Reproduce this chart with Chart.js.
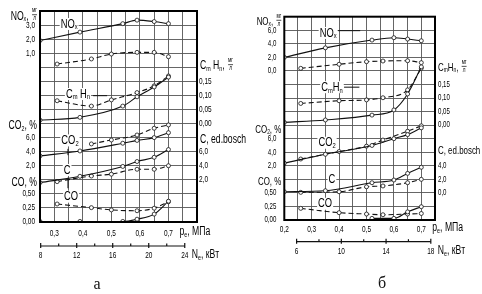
<!DOCTYPE html>
<html>
<head>
<meta charset="utf-8">
<script src="https://cdn.jsdelivr.net/npm/chart.js@4"></script>
<style>
body { margin: 0; background: #fff; width: 482px; height: 294px; position: relative; overflow: hidden; }
canvas { position: absolute; top: 0; }
#ca { left: 0; }
#cb { left: 240px; }
</style>
</head>
<body>
<canvas id="ca" width="250" height="294"></canvas>
<canvas id="cb" width="242" height="294"></canvas>
<script>
// ---- panel а ----
var peA_solid = [0.25, 0.39, 0.54, 0.59, 0.65, 0.70];
var peA_dash  = [0.31, 0.43, 0.50, 0.59, 0.65, 0.70];
var noxA_solid = [1.9, 2.5, 3.1, 3.35, 3.25, 3.1];
var noxA_dash  = [0.23, 0.59, 0.94, 1.06, 1.06, 0.75];
var chA_solid  = [0.012, 0.022, 0.062, 0.095, 0.13, 0.165];
var chA_dash   = [0.081, 0.062, 0.084, 0.11, 0.134, 0.169];
var co2A_solid = [3.4, 4.1, 5.2, 5.6, 6.0, 6.7];
var co2A_dash  = [null, 5.1, 5.66, 6.37, 7.33, 7.8];
var cA_solid   = [1.6, 2.5, 3.9, 4.6, 5.2, 6.3];
var cA_dash    = [1.74, 2.54, 2.8, 3.5, 3.5, 4.0];
var coA_solid  = [0.01, 0.01, 0.01, 0.05, 0.14, 0.37];
var coA_dash   = [0.32, 0.255, 0.215, 0.2, 0.245, 0.36];

// ---- panel б ----
var peB_solid = [0.20, 0.35, 0.52, 0.60, 0.65, 0.70];
var peB_dash  = [0.26, 0.40, 0.50, 0.56, 0.65, 0.70];
var noxB_solid = [2.0, 3.4, 4.55, 4.9, 4.7, 4.45];
var noxB_dash  = [0.38, 0.98, 1.36, 1.46, 1.5, 1.22];
var chB_solid  = [0.01, 0.019, 0.037, 0.056, 0.115, 0.215];
var chB_dash   = [0.08, 0.09, 0.093, 0.101, 0.13, 0.21];
var co2B_solid = [2.4, 3.7, 5.0, 6.0, 6.6, 7.6];
var co2B_dash  = [3.0, 4.1, 4.9, 5.8, 7.1, 7.9];
var cB_solid   = [0.17, 0.32, 1.5, 1.9, 2.88, 3.78];
var cB_dash    = [0.08, 0.17, 0.9, 1.02, 1.5, 2.0];
var coB_solid  = [null, null, 0.03, 0.03, 0.15, 0.245];
var coB_dash   = [0.215, 0.135, 0.11, 0.097, 0.11, 0.12];

// ---- tick labels ----
var noxTicksA = [1, 2, 3];
var noxTicksB = [0, 2, 4, 6];
var chTicks   = [0, 0.05, 0.10, 0.15];
var co2Ticks  = [2, 4, 6];
var cTicksA   = [2, 4, 6];
var cTicksB   = [0, 2, 4];
var coTicks   = [0, 0.25, 0.50];
var peTicksA  = [0.3, 0.4, 0.5, 0.6, 0.7];
var peTicksB  = [0.2, 0.3, 0.4, 0.5, 0.6, 0.7];
var neTicksA  = [8, 12, 16, 20, 24];
var neTicksB  = [6, 10, 14, 18];

var FONT = "'Liberation Sans', Arial, sans-serif";
var SQ = 0.72;

// value -> grid line index (0 at top of the frame, 15 at the bottom)
function gNox(step) { return function (v) { return 4 - v / step; }; }
function gCh(v) { return 8 - v / 0.05; }
function gCo2(v) { return 12 - v / 2; }
function gC(v) { return 13 - v / 2; }
function gCo(v) { return 15 - v / 0.25; }

function fmt(v, d) { return v.toFixed(d).replace('.', ','); }

function parse(s) {
  var out = [];
  for (var i = 0; i < s.length; i++) {
    if (s[i] === '_') { out.push({ t: s[i + 1], sub: true }); i++; }
    else out.push({ t: s[i], sub: false });
  }
  return out;
}

function rich(ctx, s, x, y, size, align, dry) {
  var g = parse(s), w = 0;
  g.forEach(function (c) {
    ctx.font = (c.sub ? size * 0.62 : size) + 'px ' + FONT;
    c.w = ctx.measureText(c.t).width * SQ;
    w += c.w;
  });
  if (dry) return w;
  var x0 = align === 'right' ? x - w : align === 'center' ? x - w / 2 : x;
  ctx.textAlign = 'left';
  ctx.textBaseline = 'middle';
  ctx.fillStyle = '#000';
  g.forEach(function (c) {
    ctx.font = (c.sub ? size * 0.62 : size) + 'px ' + FONT;
    ctx.save();
    ctx.translate(x0, y + (c.sub ? size * 0.24 : 0));
    ctx.scale(SQ, 1);
    ctx.fillText(c.t, 0, 0);
    ctx.restore();
    x0 += c.w;
  });
  return w;
}

function frac(ctx, x, y, dry) {
  var fs = 6.5;
  ctx.font = fs + 'px ' + FONT;
  var w = ctx.measureText('мг').width * SQ;
  if (dry) return w;
  ctx.fillStyle = '#000';
  ctx.textAlign = 'center';
  ctx.save(); ctx.translate(x + w / 2, y - 1); ctx.scale(SQ, 1);
  ctx.textBaseline = 'bottom'; ctx.fillText('мг', 0, 0); ctx.restore();
  ctx.save(); ctx.translate(x + w / 2, y + 0.5); ctx.scale(SQ, 1);
  ctx.textBaseline = 'top'; ctx.fillText('л', 0, 0); ctx.restore();
  ctx.strokeStyle = '#000'; ctx.lineWidth = 0.7;
  ctx.beginPath(); ctx.moveTo(x, y); ctx.lineTo(x + w, y); ctx.stroke();
  return w;
}

function title(ctx, s, hasFrac, x, y, align, size) {
  var w1 = rich(ctx, s, 0, 0, size, 'left', true);
  var wf = hasFrac ? frac(ctx, 0, 0, true) + 1 : 0;
  var x0 = align === 'right' ? x - w1 - wf : x;
  rich(ctx, s, x0, y, size, 'left');
  if (hasFrac) frac(ctx, x0 + w1 + 1, y - 1.5);
}

function makeDeco(p) {
  return {
    id: 'deco',
    afterDraw: function (chart) {
      var ctx = chart.ctx, a = chart.chartArea;
      var xs = chart.scales.x, ys = chart.scales.y;
      ctx.save();
      // frame
      ctx.strokeStyle = '#000'; ctx.lineWidth = 2;
      ctx.strokeRect(a.left, a.top, a.right - a.left, a.bottom - a.top);

      // axis ticks and titles
      p.axes.forEach(function (ax) {
        var left = ax.side === 'left';
        var tx = left ? a.left - p.tickGap : a.right + p.rightGap;
        ax.ticks.forEach(function (v) {
          rich(ctx, fmt(v, ax.dec), tx, ys.getPixelForValue(ax.g(v)), p.tickSize, left ? 'right' : 'left');
        });
        var ty = ys.getPixelForValue(ax.titleAt) + 1;
        title(ctx, ax.title, ax.frac, left ? a.left - 3 : a.right + 3, ty, left ? 'right' : 'left', p.titleSize);
      });

      // curve labels
      p.labels.forEach(function (l) {
        var x = xs.getPixelForValue(l.pe), y = ys.getPixelForValue(l.g);
        var w = rich(ctx, l.t, 0, 0, 13, 'left', true);
        ctx.fillStyle = '#fff';
        ctx.fillRect(x - w / 2 - 1, y - 6, w + 2, 12);
        rich(ctx, l.t, x, y, 13, 'center');
      });
      ctx.strokeStyle = '#111'; ctx.lineWidth = 1;
      p.leaders.forEach(function (l) {
        ctx.beginPath();
        ctx.moveTo(xs.getPixelForValue(l[0]), ys.getPixelForValue(l[1]));
        ctx.lineTo(xs.getPixelForValue(l[2]), ys.getPixelForValue(l[3]));
        ctx.stroke();
      });

      // pe axis labels
      var py = a.bottom + p.peDy;
      p.peTicks.forEach(function (v) {
        rich(ctx, fmt(v, 1), xs.getPixelForValue(v), py, 9, 'center');
      });
      rich(ctx, 'p_e, МПа', xs.getPixelForValue(p.peTicks[p.peTicks.length - 1]) + 11, py - 2, 12, 'left');

      // Ne axis (proportional to pe)
      var ny = a.bottom + p.neDy;
      var n0 = p.neTicks[0], n1 = p.neTicks[p.neTicks.length - 1];
      var nx = function (n) { return xs.getPixelForValue(n / p.nePerPe); };
      ctx.strokeStyle = '#111'; ctx.lineWidth = 1.2;
      ctx.beginPath(); ctx.moveTo(nx(n0), ny); ctx.lineTo(nx(n1), ny); ctx.stroke();
      for (var n = n0; n <= n1; n += 2) {
        var major = p.neTicks.indexOf(n) >= 0;
        ctx.beginPath();
        ctx.moveTo(nx(n), major ? ny - 3 : ny - 2.5);
        ctx.lineTo(nx(n), major ? ny + 2 : ny);
        ctx.stroke();
      }
      p.neTicks.forEach(function (n) {
        rich(ctx, String(n), nx(n), ny + 10, 9, 'center');
      });
      rich(ctx, 'N_e, кВт', nx(n1) + 7, ny + 9, 12, 'left');

      // panel letter
      ctx.fillStyle = '#111';
      ctx.font = '16px "Liberation Serif", serif';
      ctx.textAlign = 'center'; ctx.textBaseline = 'middle';
      ctx.fillText(p.letter, p.letterX, a.bottom + p.letterDy);
      ctx.restore();
    }
  };
}

function series(pe, v, g, dash) {
  return {
    data: pe.map(function (x, i) { return { x: x, y: v[i] == null ? null : g(v[i]) }; }),
    borderColor: '#111', borderWidth: 1.1, borderDash: dash ? [5, 3] : [],
    pointRadius: 2, pointBackgroundColor: '#fff', pointBorderColor: '#111', pointBorderWidth: 0.8,
    cubicInterpolationMode: 'monotone', spanGaps: true, fill: false
  };
}

function build(id, opt) {
  var gridTicks = [];
  for (var i = 0; i <= 11; i++) gridTicks.push({ value: +(opt.peMin + i * 0.05).toFixed(2) });
  var rows = [];
  for (var j = 0; j <= 15; j++) rows.push({ value: j });
  new Chart(document.getElementById(id), {
    type: 'line',
    data: { datasets: opt.sets },
    options: {
      responsive: false, animation: false, devicePixelRatio: 1,
      layout: { padding: opt.pad },
      scales: {
        x: {
          type: 'linear', min: opt.peMin, max: opt.peMin + 0.55,
          afterBuildTicks: function (s) { s.ticks = gridTicks.slice(); },
          grid: { color: '#555', lineWidth: 0.9, drawTicks: false },
          border: { display: false }, ticks: { display: false }
        },
        y: {
          type: 'linear', reverse: true, min: 0, max: 15,
          afterBuildTicks: function (s) { s.ticks = rows.slice(); },
          grid: { color: '#555', lineWidth: 0.9, drawTicks: false },
          border: { display: false }, ticks: { display: false }
        }
      },
      plugins: { legend: { display: false }, tooltip: { enabled: false } }
    },
    plugins: [makeDeco(opt.deco)]
  });
}

build('ca', {
  peMin: 0.25,
  pad: { left: 40, top: 11, right: 53, bottom: 72 },
  sets: [
    series(peA_solid, noxA_solid, gNox(1), false),
    series(peA_dash, noxA_dash, gNox(1), true),
    series(peA_solid, chA_solid, gCh, false),
    series(peA_dash, chA_dash, gCh, true),
    series(peA_solid, co2A_solid, gCo2, false),
    series(peA_dash, co2A_dash, gCo2, true),
    series(peA_solid, cA_solid, gC, false),
    series(peA_dash, cA_dash, gC, true),
    series(peA_solid, coA_solid, gCo, false),
    series(peA_dash, coA_dash, gCo, true)
  ],
  deco: {
    tickGap: 5, rightGap: 2, tickSize: 9, titleSize: 12,
    axes: [
      { side: 'left', ticks: noxTicksA, g: gNox(1), dec: 1, title: 'NO_x, ', frac: true, titleAt: 0.3 },
      { side: 'left', ticks: co2Ticks, g: gCo2, dec: 1, title: 'CO_2, %', frac: false, titleAt: 8.1 },
      { side: 'left', ticks: coTicks, g: gCo, dec: 2, title: 'CO, %', frac: false, titleAt: 12.15 },
      { side: 'right', ticks: chTicks, g: gCh, dec: 2, title: 'C_m H_n, ', frac: true, titleAt: 3.85 },
      { side: 'right', ticks: cTicksA, g: gC, dec: 1, title: 'C, ed.bosch', frac: false, titleAt: 9.1 }
    ],
    labels: [
      { t: 'NO_x', pe: 0.352, g: 0.92 },
      { t: 'C_m H_n', pe: 0.383, g: 5.9 },
      { t: 'CO_2', pe: 0.355, g: 9.2 },
      { t: 'C', pe: 0.345, g: 11.3 },
      { t: 'CO', pe: 0.359, g: 13.2 }
    ],
    leaders: [
      [0.436, 6.02, 0.485, 6.02],
      [0.348, 9.8, 0.348, 10.25],
      [0.348, 11.85, 0.348, 12.6]
    ],
    peTicks: peTicksA, peDy: 12,
    neTicks: neTicksA, nePerPe: 31.7, neDy: 24,
    letter: 'а', letterX: 97, letterDy: 63
  }
});

build('cb', {
  peMin: 0.20,
  pad: { left: 44.3, top: 16.7, right: 47, bottom: 74 },
  sets: [
    series(peB_solid, noxB_solid, gNox(2), false),
    series(peB_dash, noxB_dash, gNox(2), true),
    series(peB_solid, chB_solid, gCh, false),
    series(peB_dash, chB_dash, gCh, true),
    series(peB_solid, co2B_solid, gCo2, false),
    series(peB_dash, co2B_dash, gCo2, true),
    series(peB_solid, cB_solid, gC, false),
    series(peB_dash, cB_dash, gC, true),
    series(peB_solid, coB_solid, gCo, false),
    series(peB_dash, coB_dash, gCo, true)
  ],
  deco: {
    tickGap: 8, rightGap: 3, tickSize: 8.5, titleSize: 11,
    axes: [
      { side: 'left', ticks: noxTicksB, g: gNox(2), dec: 1, title: 'NO_x, ', frac: true, titleAt: 0.3 },
      { side: 'left', ticks: co2Ticks, g: gCo2, dec: 1, title: 'CO_2, %', frac: false, titleAt: 8.25 },
      { side: 'left', ticks: coTicks, g: gCo, dec: 2, title: 'CO, %', frac: false, titleAt: 12.15 },
      { side: 'right', ticks: chTicks, g: gCh, dec: 2, title: 'C_mH_n, ', frac: true, titleAt: 3.7 },
      { side: 'right', ticks: cTicksB, g: gC, dec: 1, title: 'C, ed.bosch', frac: false, titleAt: 9.8 }
    ],
    labels: [
      { t: 'NO_x', pe: 0.36, g: 1.2 },
      { t: 'C_mH_n', pe: 0.374, g: 5.2 },
      { t: 'CO_2', pe: 0.356, g: 9.3 },
      { t: 'C', pe: 0.374, g: 12.0 },
      { t: 'CO', pe: 0.349, g: 13.8 }
    ],
    leaders: [
      [0.397, 1.03, 0.477, 1.03],
      [0.418, 5.2, 0.474, 5.2]
    ],
    peTicks: peTicksB, peDy: 10,
    neTicks: neTicksB, nePerPe: 24.5, neDy: 21.7,
    letter: 'б', letterX: 142, letterDy: 64
  }
});
</script>
</body>
</html>
